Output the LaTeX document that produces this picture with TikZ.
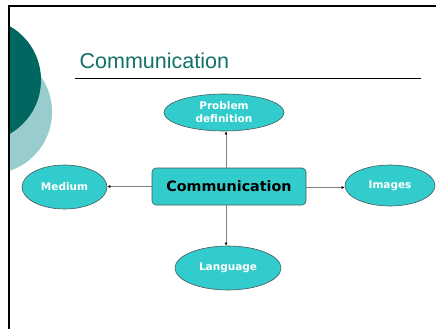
\documentclass[tikz,border=0pt]{standalone}
\usepackage{fontspec}
\setmainfont{DejaVu Sans}
\newfontfamily\titlefont{Liberation Sans}
\usetikzlibrary{arrows.meta}
\usetikzlibrary{shapes.geometric}
\definecolor{darkteal}{RGB}{0,102,96}
\definecolor{paleteal}{RGB}{153,204,204}
\definecolor{boxteal}{RGB}{51,204,204}
\definecolor{titleteal}{RGB}{16,112,106}
\definecolor{edgegray}{RGB}{70,90,90}
\tikzset{
  topic/.style={ellipse,fill=boxteal,draw=edgegray,line width=0.6pt,
    text=white,font=\bfseries\fontsize{10.5}{13}\selectfont,align=center,inner sep=0pt},
  hub/.style={rectangle,rounded corners=4pt,fill=boxteal,draw=edgegray,line width=0.6pt,
    minimum width=154pt,minimum height=37pt,font=\bfseries\fontsize{14.3}{16}\selectfont},
  conn/.style={draw=black!50,line width=0.7pt,-{Latex[black,length=3pt,width=3pt]}}
}
\begin{document}
\begin{tikzpicture}[x=1pt,y=-1pt]
			\useasboundingbox (0,0) rectangle (436,329);
			% side discs
			\begin{scope}
				\clip (9,6) rectangle (436,329);
				\fill[paleteal] (-10,112) circle (62);
				\fill[darkteal] (-21,80) circle (62);
			\end{scope}
			% frame
			\draw[line width=2pt] (8.5,329) -- (8.5,6.5) -- (436,6.5);
			% title
			\node[anchor=base west,inner sep=0pt,text=titleteal,font=\titlefont\fontsize{21.5}{24}\selectfont] (title) at (79.5,68.3) {Communication};
			\draw[line width=1pt] (75,78.7) -- (421,78.7);
			% hub and topics
			\node[hub] (comm) at (229,186.5) {Communication};
			\node[topic,minimum width=120pt,minimum height=37pt] (problem) at (224,112.5) {Problem\\definition};
			\node[topic,minimum width=85pt,minimum height=44pt] (medium) at (64.5,187) {Medium};
			\node[topic,minimum width=90pt,minimum height=41pt] (images) at (390,185.5) {Images};
			\node[topic,minimum width=106pt,minimum height=44pt] (language) at (228,268) {Language};
			% links
			\draw[conn] ([xshift=-3pt]comm.north) -- ([xshift=-3pt]comm.north |- problem.south);
			\draw[conn] ([xshift=-3pt]comm.south) -- ([xshift=-3pt]comm.south |- language.north);
			\draw[conn] (comm.west) -- (comm.west -| medium.east);
			\draw[conn] ([yshift=-1pt]comm.east) -- ([yshift=-1pt]comm.east -| images.west);
\end{tikzpicture}
\end{document}
